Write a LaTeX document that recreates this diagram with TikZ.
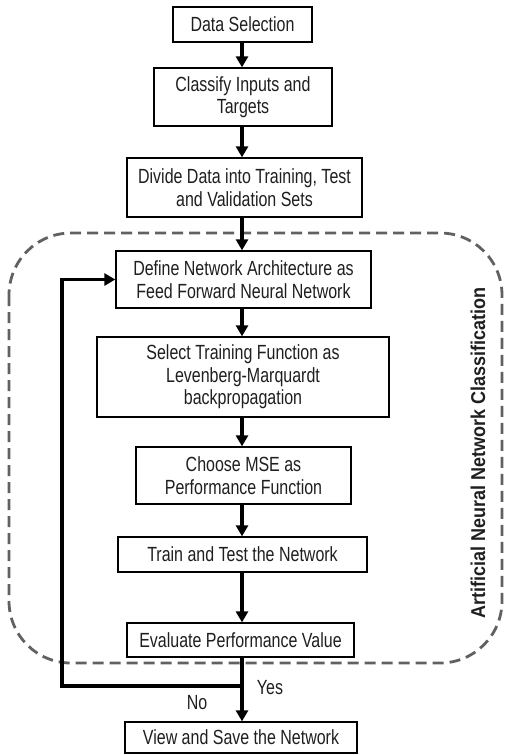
\documentclass[tikz,border=0pt]{standalone}
\usepackage{fontspec}
\setmainfont{Liberation Sans}[FakeStretch=0.78]
\newfontfamily\titlefont{Liberation Sans}[FakeStretch=0.9]
\usetikzlibrary{arrows.meta}
\begin{document}
\begin{tikzpicture}[x=1pt,y=-1pt,
  stepbox/.style={draw=black,line width=1.3pt,fill=white,inner sep=0pt,align=center,
    text=black!88,font=\fontsize{20.5}{22.5}\selectfont},
  flow/.style={line width=3.2pt,-{Triangle[width=12pt,length=11pt]}},
  region/.style={draw=black!62,line width=2.8pt,dash pattern=on 11pt off 6pt,rounded corners=62pt},
  lbl/.style={font=\fontsize{20.5}{22}\selectfont,text=black!88,inner sep=0pt}]
\useasboundingbox (0,0) rectangle (505,755);

% classification region
\draw[region] (9,233) rectangle (502,663);
\node[rotate=90,font=\titlefont\bfseries\fontsize{20}{22}\selectfont,text=black!88,inner sep=0pt] (title) at (478,453)
  {Artificial Neural Network Classification};

% process steps
\node[stepbox,minimum width=139pt,minimum height=35pt] (sel) at (242.5,24.5) {Data Selection};
\node[stepbox,minimum width=178pt,minimum height=58pt] (cls) at (243,97) {Classify Inputs and\\Targets};
\node[stepbox,minimum width=235pt,minimum height=59pt] (div) at (244.5,187.5) {Divide Data into Training, Test\\and Validation Sets};
\node[stepbox,minimum width=255pt,minimum height=57pt] (arch) at (243.5,279.5) {Define Network Architecture as\\Feed Forward Neural Network};
\node[stepbox,minimum width=292pt,minimum height=80pt] (train) at (243,377) {Select Training Function as\\Levenberg-Marquardt\\backpropagation};
\node[stepbox,minimum width=215pt,minimum height=57pt] (mse) at (243.5,475.5) {Choose MSE as\\Performance Function};
\node[stepbox,minimum width=249pt,minimum height=35pt] (test) at (242.5,554.5) {Train and Test the Network};
\node[stepbox,minimum width=227pt,minimum height=34pt] (eval) at (240.5,640) {Evaluate Performance Value};
\node[stepbox,minimum width=232pt,minimum height=31pt] (save) at (241,737.5) {View and Save the Network};

% spine and loop-back points
\coordinate (ax) at (242,0);
\coordinate (split) at (242,686);
\coordinate (back) at (62,686);

\draw[flow] (sel.south -| ax) -- (cls.north -| ax);
\draw[flow] (cls.south -| ax) -- (div.north -| ax);
\draw[flow] (div.south -| ax) -- (arch.north -| ax);
\draw[flow] (arch.south -| ax) -- (train.north -| ax);
\draw[flow] (train.south -| ax) -- (mse.north -| ax);
\draw[flow] (mse.south -| ax) -- (test.north -| ax);
\draw[flow] (test.south -| ax) -- (eval.north -| ax);
\draw[flow] (eval.south -| ax) -- (save.north -| ax);
\draw[flow] (split) -- (back) |- (arch.west);

\node[lbl] (yes) at (270,688) {Yes};
\node[lbl] (no) at (197,703) {No};
\end{tikzpicture}
\end{document}
